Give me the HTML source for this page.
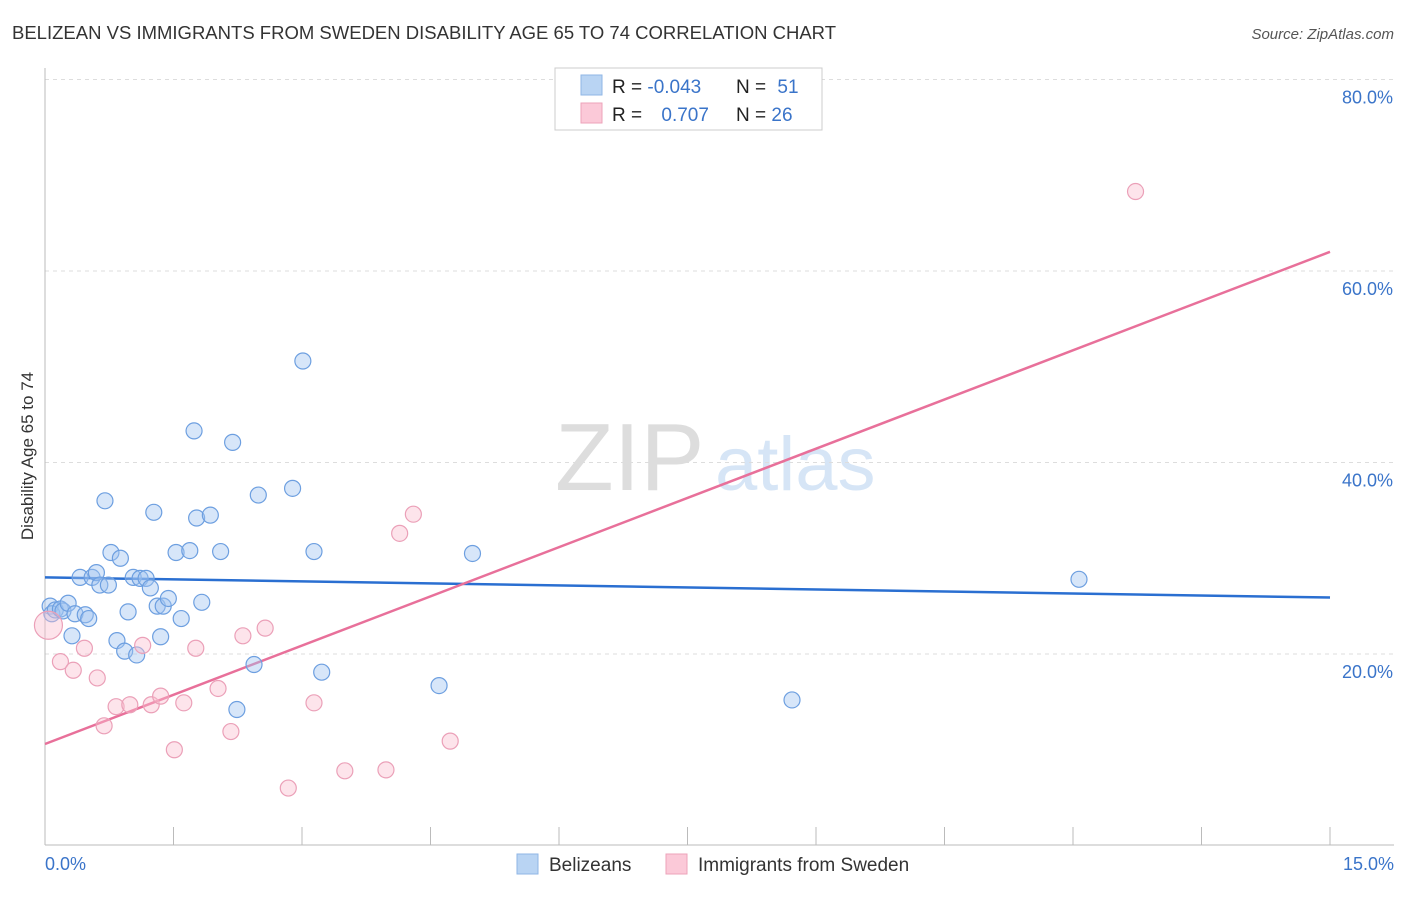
<!DOCTYPE html>
<html><head><meta charset="utf-8"><style>
body{margin:0;background:#fff;font-family:"Liberation Sans",sans-serif;}
svg text{font-family:"Liberation Sans",sans-serif;}
</style></head><body>
<svg id="chart" width="1406" height="892" xmlns="http://www.w3.org/2000/svg">
<text x="12" y="39" font-size="18" fill="#333" textLength="824" lengthAdjust="spacingAndGlyphs">BELIZEAN VS IMMIGRANTS FROM SWEDEN DISABILITY AGE 65 TO 74 CORRELATION CHART</text>
<text x="1394" y="39" font-size="15" fill="#555" font-style="italic" text-anchor="end">Source: ZipAtlas.com</text>
<text x="0" y="0" transform="translate(33,456) rotate(-90)" font-size="17" fill="#333" text-anchor="middle">Disability Age 65 to 74</text>
<g><text x="555" y="490" font-size="96" fill="#ddd" font-family="Liberation Serif">ZIP</text><text x="715" y="490" font-size="76" fill="#d6e5f6">atlas</text></g>
<g id="grid"></g><g id="axes"></g><g id="trend"></g><g id="points"></g>
<g>
<rect x="555" y="68" width="267" height="62" fill="#fff" stroke="#ccc"/>
<rect x="581" y="75" width="21" height="20" fill="#b9d4f3" stroke="#8fb6e6"/>
<rect x="581" y="103" width="21" height="20" fill="#fbc9d8" stroke="#eca3ba"/>
<text x="612" y="93" font-size="19" fill="#222">R = <tspan fill="#3a74c9">-0.043</tspan></text>
<text x="736" y="93" font-size="19" fill="#222">N = <tspan fill="#3a74c9" dx="6">51</tspan></text>
<text x="612" y="121" font-size="19" fill="#222">R = <tspan fill="#3a74c9" dx="14">0.707</tspan></text>
<text x="736" y="121" font-size="19" fill="#222">N = <tspan fill="#3a74c9">26</tspan></text>
</g>
<g>
<rect x="517" y="854" width="21" height="20" fill="#b9d4f3" stroke="#8fb6e6"/>
<text x="549" y="871" font-size="19" fill="#333">Belizeans</text>
<rect x="666" y="854" width="21" height="20" fill="#fbc9d8" stroke="#eca3ba"/>
<text x="698" y="871" font-size="19" fill="#333">Immigrants from Sweden</text>
</g>
</svg>
<script>
const blueX=[0.06,0.08,0.12,0.18,0.21,0.27,0.315,0.35,0.41,0.47,0.51,0.55,0.60,0.64,0.70,0.74,0.77,0.84,0.88,0.93,0.97,1.03,1.07,1.11,1.18,1.23,1.27,1.31,1.35,1.38,1.44,1.53,1.59,1.69,1.74,1.77,1.83,1.93,2.05,2.19,2.24,2.44,2.49,2.89,3.01,3.14,3.23,4.60,4.99,8.72,12.07];
const blueY=[25.0,24.2,24.6,24.7,24.5,25.3,21.9,24.2,28.0,24.1,23.7,28.0,28.5,27.2,36.0,27.2,30.6,21.4,30.0,20.3,24.4,28.0,19.9,27.9,27.9,26.9,34.8,25.0,21.8,25.0,25.8,30.6,23.7,30.8,43.3,34.2,25.4,34.5,30.7,42.1,14.2,18.9,36.6,37.3,50.6,30.7,18.1,16.7,30.5,15.2,27.8];
const pinkX=[0.04,0.18,0.33,0.46,0.61,0.69,0.83,0.99,1.14,1.24,1.35,1.51,1.62,1.76,2.02,2.17,2.31,2.57,2.84,3.14,3.50,3.98,4.14,4.30,4.73,12.73];
const pinkY=[23.0,19.2,18.3,20.6,17.5,12.5,14.5,14.7,20.9,14.7,15.6,10.0,14.9,20.6,16.4,11.9,21.9,22.7,6.0,14.9,7.8,7.9,32.6,34.6,10.9,68.3];
const blueTrend=[28.0,25.9];
const pinkTrend=[10.6,62.0];
const yTicks=[20,40,60,80];
const xTickLabels=["0.0%","15.0%"];
const NS="http://www.w3.org/2000/svg";
const X0=45,X1=1330,Y0=845.5;
const xs=v=>X0+v*(X1-X0)/15;
const ys=v=>Y0-v*9.575;
function mk(tag,attrs,parent){const e=document.createElementNS(NS,tag);for(const k in attrs)e.setAttribute(k,attrs[k]);document.getElementById(parent).appendChild(e);return e;}
yTicks.forEach(t=>{
 const l=mk('line',{x1:45,x2:1394,y1:ys(t),y2:ys(t),stroke:'#ddd','stroke-dasharray':'4,4'},'grid');
 
 
 const tx=mk('text',{x:1393,y:ys(t)+24,'font-size':18,fill:'#3a74c9','text-anchor':'end'},'grid');
 tx.textContent=t.toFixed(1)+'%';
 
 
});
const ax=mk('line',{x1:45,x2:1394,y1:845,y2:845,stroke:'#bbb'},'axes');


const ay=mk('line',{x1:45,x2:45,y1:68,y2:845,stroke:'#bbb'},'axes');


for(let i=0;i<=10;i++){const t=mk('line',{x1:xs(i*1.5),x2:xs(i*1.5),y1:827,y2:845,stroke:'#bbb'},'axes');
 
 }
const xl0=mk('text',{x:45,y:870,'font-size':18,fill:'#3a74c9'},'axes');xl0.textContent=xTickLabels[0];


const xl1=mk('text',{x:1394,y:870,'font-size':18,fill:'#3a74c9','text-anchor':'end'},'axes');xl1.textContent=xTickLabels[1];


const bt=mk('line',{x1:xs(0),y1:ys(blueTrend[0]),x2:xs(15),y2:ys(blueTrend[1]),stroke:'#2a6fd1','stroke-width':2.5},'trend');


const pt=mk('line',{x1:xs(0),y1:ys(pinkTrend[0]),x2:xs(15),y2:ys(pinkTrend[1]),stroke:'#e8709a','stroke-width':2.5},'trend');


blueX.forEach((v,i)=>{const c=mk('circle',{cx:xs(v),cy:ys(blueY[i]),r:8,fill:'rgba(160,196,240,0.42)',stroke:'#6d9fe0','stroke-width':1.2},'points');
 
 });
pinkX.forEach((v,i)=>{const c=mk('circle',{cx:xs(v),cy:ys(pinkY[i]),r:i===0?14:8,fill:'rgba(250,190,208,0.42)',stroke:'#eba0b8','stroke-width':1.2},'points');
 
 });
</script>
</body></html>
